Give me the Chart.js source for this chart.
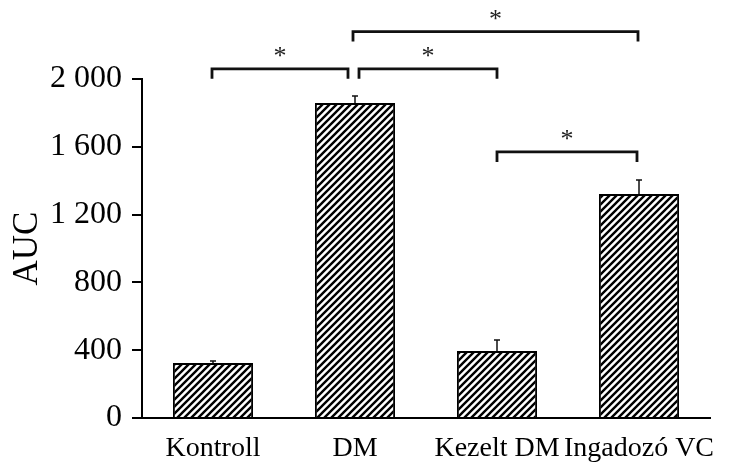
<!DOCTYPE html>
<html>
<head>
<meta charset="utf-8">
<script src="https://cdn.jsdelivr.net/npm/chart.js@4.4.1/dist/chart.umd.min.js"></script>
<style>
  html, body { margin: 0; padding: 0; background: #ffffff; }
  canvas { display: block; }
</style>
</head>
<body>
<canvas id="chart" width="735" height="465"></canvas>
<script>
// Group names on the x axis
const categories = ['Kontroll', 'DM', 'Kezelt DM', 'Ingadozó VC'];
// Mean AUC per group and the upper error (SEM)
const aucMeans = [324, 1858, 395, 1321];
const aucErrors = [12, 42, 65, 83];
// Y axis ticks and their printed labels
const yTickValues = [0, 400, 800, 1200, 1600, 2000];
const yTickLabels = ['0', '400', '800', '1 200', '1 600', '2 000'];
// Significance brackets: compared groups, bracket height (AUC units), mark
const bracketPairs = [[0, 1], [1, 2], [1, 3], [2, 3]];
const bracketLevels = [2060, 2060, 2280, 1570];
const bracketMarks = ['*', '*', '*', '*'];

const SERIF = '"Liberation Serif", "Times New Roman", serif';

// Diagonal "/" hatch fill for the bars
function makeHatch() {
  const s = 7;
  const c = document.createElement('canvas');
  c.width = s; c.height = s;
  const g = c.getContext('2d');
  g.fillStyle = '#ffffff';
  g.fillRect(0, 0, s, s);
  g.strokeStyle = '#000000';
  g.lineWidth = 2.4;
  g.beginPath();
  g.moveTo(-1, s + 1); g.lineTo(s + 1, -1);
  g.moveTo(-1, 1); g.lineTo(1, -1);
  g.moveTo(s - 1, s + 1); g.lineTo(s + 1, s - 1);
  g.stroke();
  return g.createPattern(c, 'repeat');
}

const whiteBackground = {
  id: 'whiteBackground',
  beforeDraw(chart) {
    const ctx = chart.ctx;
    ctx.save();
    ctx.fillStyle = '#ffffff';
    ctx.fillRect(0, 0, chart.width, chart.height);
    ctx.restore();
  }
};

// Error bars (upper only) and significance brackets
const errorsAndBrackets = {
  id: 'errorsAndBrackets',
  afterDatasetsDraw(chart) {
    const ctx = chart.ctx;
    const xs = chart.scales.x, ys = chart.scales.y;
    ctx.save();

    ctx.strokeStyle = '#111111';
    ctx.lineWidth = 1.5;
    aucMeans.forEach((m, i) => {
      const cx = xs.getPixelForValue(i);
      const y0 = ys.getPixelForValue(m);
      const y1 = ys.getPixelForValue(m + aucErrors[i]);
      ctx.beginPath();
      ctx.moveTo(cx, y0); ctx.lineTo(cx, y1);
      ctx.moveTo(cx - 3, y1); ctx.lineTo(cx + 3, y1);
      ctx.stroke();
    });

    // small pixel nudges so brackets meeting at the same bar do not touch
    const endNudge = [[-1, -7], [4, 0], [-2, -1], [0, -2]];
    const drop = 10;
    ctx.lineWidth = 2.8;
    ctx.strokeStyle = '#111111';
    ctx.fillStyle = '#222222';
    ctx.font = '26px ' + SERIF;
    ctx.textAlign = 'center';
    ctx.textBaseline = 'alphabetic';
    bracketPairs.forEach((p, k) => {
      const xa = xs.getPixelForValue(p[0]) + endNudge[k][0];
      const xb = xs.getPixelForValue(p[1]) + endNudge[k][1];
      const yl = ys.getPixelForValue(bracketLevels[k]);
      ctx.beginPath();
      ctx.moveTo(xa, yl + drop);
      ctx.lineTo(xa, yl);
      ctx.lineTo(xb, yl);
      ctx.lineTo(xb, yl + drop);
      ctx.stroke();
      ctx.fillText(bracketMarks[k], (xa + xb) / 2, yl - 5);
    });
    ctx.restore();
  }
};

new Chart(document.getElementById('chart'), {
  type: 'bar',
  data: {
    labels: categories,
    datasets: [{
      label: 'AUC',
      data: aucMeans,
      backgroundColor: makeHatch(),
      borderColor: '#000000',
      borderWidth: 2,
      borderSkipped: 'start',
      barPercentage: 0.565,
      categoryPercentage: 1.0
    }]
  },
  options: {
    responsive: false,
    animation: false,
    devicePixelRatio: 1,
    layout: { padding: { top: 79, right: 25, bottom: 0, left: 0 } },
    plugins: {
      legend: { display: false },
      tooltip: { enabled: false }
    },
    scales: {
      x: {
        offset: true,
        grid: { display: false, drawTicks: false },
        border: { display: true, color: '#000000', width: 2 },
        ticks: {
          color: '#000000',
          font: { family: SERIF, size: 28 },
          padding: 14,
          maxRotation: 0,
          autoSkip: false
        },
        afterFit(scale) { scale.height = 47; }
      },
      y: {
        min: 0,
        max: 2000,
        afterBuildTicks(scale) {
          scale.ticks = yTickValues.map(v => ({ value: v }));
        },
        grid: {
          display: true,
          drawOnChartArea: false,
          drawTicks: true,
          tickLength: 10,
          color: '#000000',
          lineWidth: 2
        },
        border: { display: true, color: '#000000', width: 2 },
        ticks: {
          color: '#000000',
          font: { family: SERIF, size: 32 },
          padding: 10,
          callback(value) {
            const i = yTickValues.indexOf(value);
            return i >= 0 ? yTickLabels[i] : '';
          }
        },
        title: {
          display: true,
          text: 'AUC',
          color: '#000000',
          font: { family: SERIF, size: 35 },
          padding: { top: 7, bottom: 0 }
        },
        afterFit(scale) { scale.width = 142; }
      }
    }
  },
  plugins: [whiteBackground, errorsAndBrackets]
});
</script>
</body>
</html>
